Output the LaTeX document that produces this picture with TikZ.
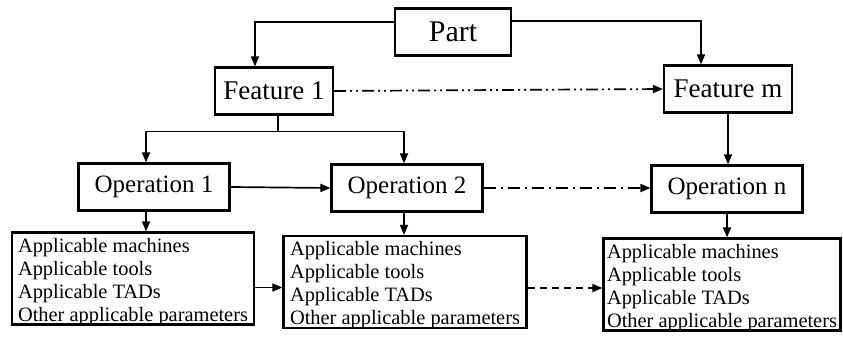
\documentclass[tikz,border=0pt]{standalone}
\usepackage{fontspec}
\setmainfont{Liberation Serif}
\usetikzlibrary{arrows.meta,positioning}

\tikzset{
  block/.style={draw,line width=2.2pt,inner sep=0pt,minimum height=47pt},
  paramlist/.style={draw,line width=2.2pt,inner sep=0pt,align=left,minimum width=#1,
    text height=88.5pt,text depth=3.5pt,font=\fontsize{20.4}{23}\selectfont},
  arr/.style={line width=1.7pt,-{Triangle[length=10pt,width=8pt]}},
  dashdotdot/.style={dash pattern=on 12pt off 4pt on 2pt off 4pt on 2pt off 4pt},
  dashdot/.style={dash pattern=on 12pt off 5pt on 2pt off 5pt},
}

\begin{document}
\begin{tikzpicture}[x=1pt,y=-1pt]
	\useasboundingbox (0,0) rectangle (843,343);

	% The part on top, its features below it.
	\node[block,minimum width=116pt,font=\fontsize{30}{36}\selectfont] (part) at (453,32) {Part};
	\node[block,minimum width=118pt,font=\fontsize{27}{32}\selectfont] (feat1) at (274,91) {Feature 1};
	\node[block,minimum width=128pt,font=\fontsize{27}{32}\selectfont] (featm) at (728,89) {Feature m};

	% The operations of the features.
	\node[block,minimum width=151pt,font=\fontsize{25}{30}\selectfont] (op1) at (154,187) {Operation 1};
	\node[block,minimum width=151pt,font=\fontsize{25}{30}\selectfont] (op2) at (407,188) {Operation 2};
	\node[block,minimum width=151pt,font=\fontsize{25}{30}\selectfont] (opn) at (727,189) {Operation n};

	% One list of parameters under each operation.
	\node[paramlist=242pt] (mach1) at (133,278.5) {Applicable machines\\Applicable tools\\Applicable TADs\\Other applicable parameters};
	\node[paramlist=243pt] (mach2) at (405,282) {Applicable machines\\Applicable tools\\Applicable TADs\\Other applicable parameters};
	\node[paramlist=237pt] (machn) at (722,284.5) {Applicable machines\\Applicable tools\\Applicable TADs\\Other applicable parameters};

	% Part to the features
	\draw[arr] ([yshift=10pt]part.west) -| ([xshift=-19pt]feat1.north);
	\draw[arr] ([yshift=11pt]part.east) -| ([xshift=-27pt]featm.north);
	\draw[arr,dashdotdot] (feat1.east) -- (featm.west);

	% Features to the operations
	\coordinate (split) at ([xshift=4pt,yshift=-16pt]feat1.south);
	\draw[line width=1.7pt] (feat1.south -| split) -- (split);
	\draw[arr] (split) -| ([xshift=-8pt]op1.north);
	\draw[arr] (split) -| ([xshift=-3pt]op2.north);
	\draw[arr] (featm.south) -- (featm.south |- opn.north);
	\draw[arr] (op1.east) -- (op2.west);
	\draw[arr,dashdot] (op2.east) -- (op2.east -| opn.west);

	% Operations to the parameter lists
	\draw[arr] ([xshift=-8pt]op1.south) -- ([xshift=-8pt]op1.south |- mach1.north);
	\draw[arr] ([xshift=-3pt]op2.south) -- ([xshift=-3pt]op2.south |- mach2.north);
	\draw[arr] (opn.south) -- (opn.south |- machn.north);
	\coordinate (m1e) at ([yshift=-9pt]mach1.east);
	\coordinate (m2e) at ([yshift=-6pt]mach2.east);
	\draw[arr] (m1e) -- (m1e -| mach2.west);
	\draw[arr,dash pattern=on 7pt off 5pt] (m2e) -- (m2e -| machn.west);
\end{tikzpicture}
\end{document}
